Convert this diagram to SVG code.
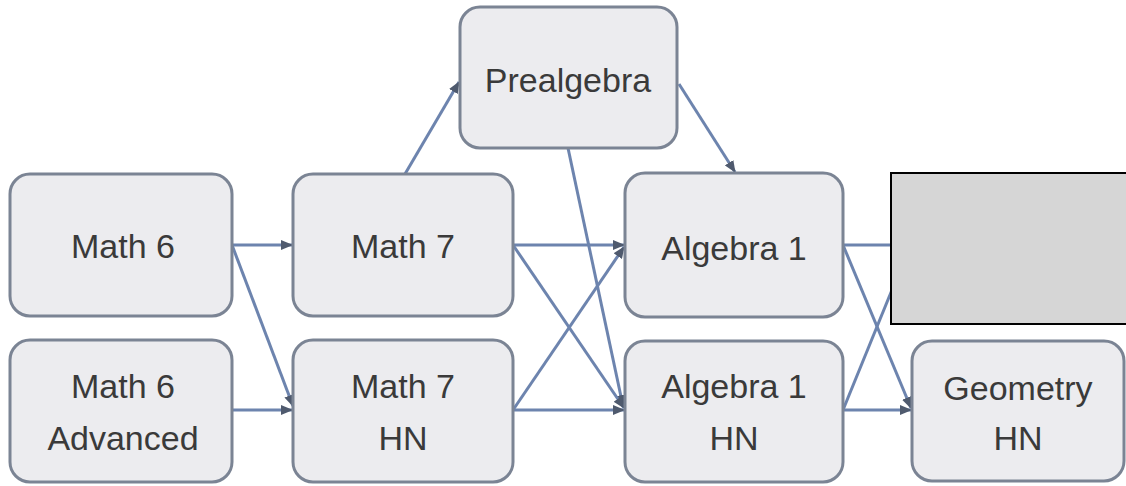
<svg xmlns="http://www.w3.org/2000/svg" width="1126" height="486" viewBox="0 0 1126 486">
<style>
.n rect{fill:#ececef;stroke:#7b8494;stroke-width:3}
.n text{font-family:"Liberation Sans",Arial,sans-serif;font-size:34px;fill:#3a3a3a;text-anchor:middle}
.e line{stroke:#6d84ae;stroke-width:3}
</style>
<defs>
<marker id="a" viewBox="0 0 12 10" refX="11" refY="5" markerWidth="12" markerHeight="10" markerUnits="userSpaceOnUse" orient="auto">
<path d="M0,0 L12,5 L0,10 Z" fill="#4f5a6e"/>
</marker>
</defs>
<rect width="1126" height="486" fill="#ffffff"/>
<g class="e">
<line x1="232" y1="245" x2="292" y2="245" marker-end="url(#a)"/>
<line x1="232" y1="245" x2="293" y2="406" marker-end="url(#a)"/>
<line x1="232" y1="410" x2="292" y2="410" marker-end="url(#a)"/>
<line x1="405" y1="174" x2="459" y2="82" marker-end="url(#a)"/>
<line x1="679" y1="84" x2="735" y2="172" marker-end="url(#a)"/>
<line x1="568" y1="148" x2="623" y2="406" marker-end="url(#a)"/>
<line x1="513" y1="245" x2="624" y2="245" marker-end="url(#a)"/>
<line x1="513" y1="245" x2="624" y2="408" marker-end="url(#a)"/>
<line x1="513" y1="410" x2="624" y2="247" marker-end="url(#a)"/>
<line x1="513" y1="410" x2="624" y2="410" marker-end="url(#a)"/>
<line x1="843" y1="245" x2="900" y2="245"/>
<line x1="843" y1="245" x2="911" y2="408" marker-end="url(#a)"/>
<line x1="843" y1="410" x2="905" y2="258"/>
<line x1="843" y1="410" x2="911" y2="410" marker-end="url(#a)"/>
</g>
<g id="math6" class="n"><rect x="10" y="174" width="222" height="142" rx="20"/><text x="123" y="258">Math 6</text></g>
<g id="math6adv" class="n"><rect x="10" y="340" width="222" height="142" rx="20"/><text x="123" y="398">Math 6</text><text x="123" y="450">Advanced</text></g>
<g id="math7" class="n"><rect x="293" y="174" width="220" height="142" rx="20"/><text x="403" y="258">Math 7</text></g>
<g id="math7hn" class="n"><rect x="293" y="340" width="220" height="142" rx="20"/><text x="403" y="398">Math 7</text><text x="403" y="450">HN</text></g>
<g id="prealgebra" class="n"><rect x="460" y="7" width="217" height="141" rx="20"/><text x="568" y="92">Prealgebra</text></g>
<g id="algebra1" class="n"><rect x="625" y="173" width="218" height="144" rx="20"/><text x="734" y="260">Algebra 1</text></g>
<g id="algebra1hn" class="n"><rect x="625" y="341" width="218" height="141" rx="20"/><text x="734" y="398">Algebra 1</text><text x="734" y="450">HN</text></g>
<g id="geometryhn" class="n"><rect x="912" y="341" width="212" height="140" rx="20"/><text x="1018" y="400">Geometry</text><text x="1018" y="450">HN</text></g>
<rect id="redaction" x="891" y="173" width="240" height="151" fill="#d6d6d6" stroke="#000000" stroke-width="2"/>
</svg>
